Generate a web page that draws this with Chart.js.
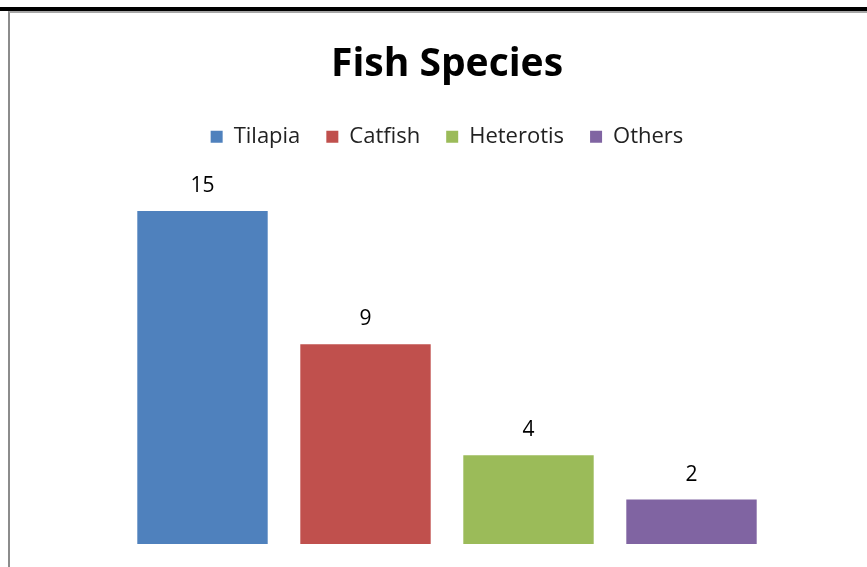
<!DOCTYPE html>
<html>
<head>
<meta charset="utf-8">
<script src="https://cdn.jsdelivr.net/npm/chart.js@4"></script>
<style>
  html, body { margin: 0; padding: 0; background: #fff; }
  body { width: 867px; height: 567px; position: relative; overflow: hidden; }
  #topRule { position: absolute; left: 0; top: 7px; width: 867px; height: 4px; background: #000; }
  #frame { position: absolute; left: 8px; top: 11px; width: 859px; height: 556px;
           border-left: 2px solid #8c8c8c; border-top: 2px solid #a6a6a6; box-sizing: border-box; }
  #wrap { position: absolute; left: 10px; top: 13px; width: 857px; height: 554px; }
</style>
</head>
<body>
<div id="topRule"></div>
<div id="frame"></div>
<div id="wrap"><canvas id="fishChart"></canvas></div>
<script>
// fish species counts
const species = ['Tilapia', 'Catfish', 'Heterotis', 'Others'];
const counts = [15, 9, 4, 2];
const colours = ['#4F81BD', '#C0504D', '#9BBB59', '#8064A2'];

const ctx = document.getElementById('fishChart').getContext('2d');

// value labels above each bar
const barLabels = {
	id: 'barLabels',
	afterDatasetsDraw(chart) {
		const c = chart.ctx;
		c.save();
		c.font = '21px "Open Sans"';
		c.fillStyle = '#000';
		c.textAlign = 'center';
		c.textBaseline = 'alphabetic';
		chart.data.datasets.forEach((ds, i) => {
			const bar = chart.getDatasetMeta(i).data[0];
			c.fillText(ds.data[0], bar.x, bar.y - 19);
		});
		c.restore();
	}
};

// extra room under the legend
const legendGap = {
	id: 'legendGap',
	beforeInit(chart) {
		const fit = chart.legend.fit;
		chart.legend.fit = function () {
			fit.bind(chart.legend)();
			this.height += 31;
		};
	}
};

const myChart = new Chart(ctx, {
	type: 'bar',
	data: {
		labels: [''],
		datasets: species.map((name, i) => ({
			label: name,
			data: [counts[i]],
			backgroundColor: colours[i],
			borderWidth: 0,
		})),
	},
	options: {
		responsive: true,
		maintainAspectRatio: false,
		animation: false,
		layout: { padding: { left: 111, right: 94, top: 0, bottom: 23 } },
		datasets: { bar: { categoryPercentage: 1, barPercentage: 0.8 } },
		scales: {
			x: { display: false },
			y: { display: false, min: 0, max: 16 },
		},
		plugins: {
			title: {
				display: true,
				text: 'Fish Species',
				color: '#000',
				font: { family: '"Open Sans"', size: 39, weight: 'bold' },
				padding: { top: 28, bottom: 12 },
			},
			legend: {
				labels: {
					color: '#222',
					font: { family: '"Open Sans"', size: 22 },
					boxWidth: 12,
					boxHeight: 12,
					padding: 26,
				},
			},
			tooltip: { enabled: false },
		},
	},
	plugins: [barLabels, legendGap],
});
</script>
</body>
</html>
